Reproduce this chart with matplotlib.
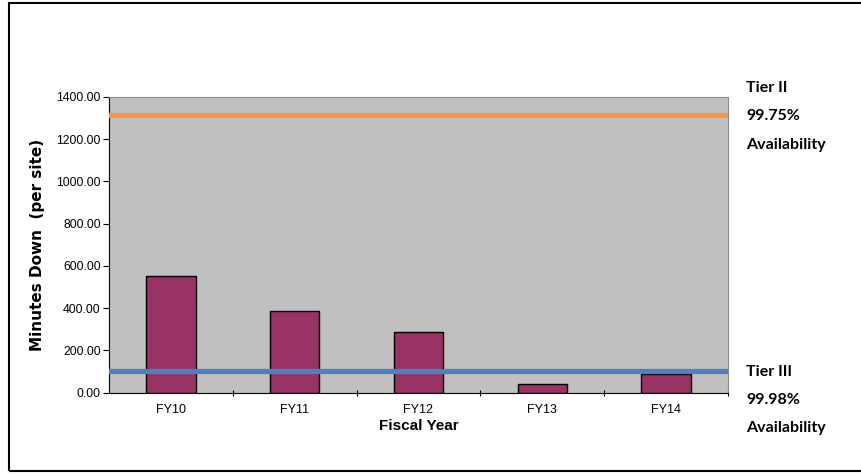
import matplotlib.pyplot as plt
from matplotlib.patches import Rectangle

# data
years = ['FY10', 'FY11', 'FY12', 'FY13', 'FY14']
minutes_down = [551, 386, 288, 40, 87]
tier2_limit = 1314   # 99.75% availability
tier3_limit = 105    # 99.98% availability
y_ticks = [0, 200, 400, 600, 800, 1000, 1200, 1400]

narrow = ['Liberation Sans Narrow', 'Liberation Sans', 'DejaVu Sans']

fig = plt.figure(figsize=(8.62, 4.75), dpi=100)
ax = fig.add_axes([109 / 862, 1 - 392.7 / 475, (728 - 109) / 862, (392.7 - 97) / 475])
ax.set_facecolor('#C0C0C0')

x = range(len(years))
ax.bar(x, minutes_down, width=0.4, color='#993366', edgecolor='black', linewidth=1, zorder=2)
ax.axhline(tier2_limit, color='#F79646', linewidth=3.8, zorder=3)
ax.axhline(tier3_limit, color='#4F81BD', linewidth=3.8, zorder=3)

ax.set_xlim(-0.5, len(years) - 0.5)
ax.set_ylim(0, 1400)
ax.set_yticks(y_ticks)
ax.set_yticklabels(['%.2f' % v for v in y_ticks], family=narrow, fontsize=8.8)
ax.set_xticks([i + 0.5 for i in range(len(years) - 1)] + [len(years) - 0.5])
ax.set_xticklabels([])
ax.set_xticks(list(x), minor=True)
ax.set_xticklabels(years, minor=True, family=narrow, fontsize=9)
ax.tick_params(axis='x', which='minor', length=0, pad=8)
ax.tick_params(axis='x', which='major', length=5, direction='inout', color='black')
ax.tick_params(axis='y', length=4, direction='out', color='black', pad=2)

ax.spines['left'].set_color('black')
ax.spines['bottom'].set_color('black')
ax.spines['top'].set_color('#8C8C8C')
ax.spines['right'].set_color('#8C8C8C')

ax.set_xlabel('Fiscal Year', family=narrow, fontsize=11, fontweight='bold', labelpad=2)
ax.set_ylabel('Minutes Down  (per site)', fontsize=11, fontweight='bold', labelpad=8)

# tier annotations on the right
tier_font = dict(family=['Lato', 'DejaVu Sans'], fontsize=11.5, fontweight='bold', ha='left', va='center')
fig.text(746 / 862, 1 - 88 / 475, 'Tier II', **tier_font)
fig.text(746 / 862, 1 - 116 / 475, '99.75%', **tier_font)
fig.text(746 / 862, 1 - 145 / 475, 'Availability', **tier_font)
fig.text(746 / 862, 1 - 372 / 475, 'Tier III', **tier_font)
fig.text(746 / 862, 1 - 400 / 475, '99.98%', **tier_font)
fig.text(746 / 862, 1 - 428 / 475, 'Availability', **tier_font)

# outer frame
fig.patches.append(Rectangle((9 / 862, 1 - 471 / 475), 1, (471 - 3) / 475,
                             transform=fig.transFigure, fill=False,
                             edgecolor='black', linewidth=1.5))

fig.savefig('out.png', dpi=100)
